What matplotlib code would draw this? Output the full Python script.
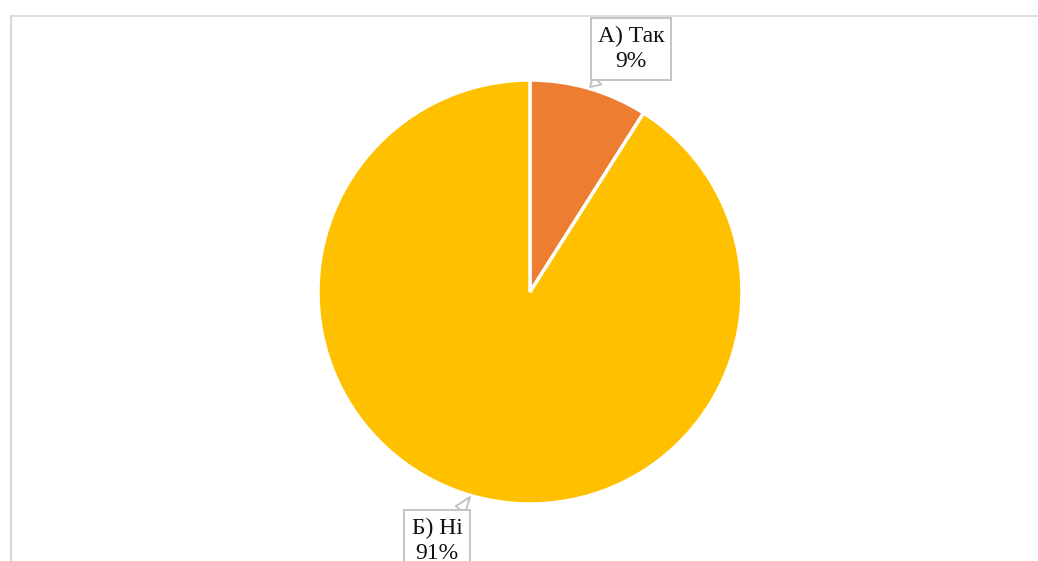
import matplotlib
matplotlib.use("Agg")
import matplotlib.pyplot as plt

labels = ["А) Так", "Б) Ні"]
values = [9, 91]
colors = ["#ED7D31", "#FFC000"]

W, H = 1038, 561
fig = plt.figure(figsize=(W / 100, H / 100), dpi=100)
ax = fig.add_axes([0, 0, 1, 1])

cx, cy, r = 530, H - 292, 212
wedges, _ = ax.pie(values, colors=colors, startangle=90, counterclock=False,
                   center=(cx, cy), radius=r, frame=True,
                   wedgeprops=dict(edgecolor="white", linewidth=2.5))
ax.set_xlim(0, W)
ax.set_ylim(0, H)
ax.set_aspect("equal")
ax.axis("off")

# chart border (top and left)
ax.plot([10.5, W], [H - 15.5, H - 15.5], color="#d9d9d9", lw=1.2, clip_on=False)
ax.plot([10.5, 10.5], [0, H - 15.5], color="#d9d9d9", lw=1.5, clip_on=False)

texts_pos = [(631, H - 49), (437, H - 541)]
tips = [(590, H - 87), (470, H - 497)]
for lab, v, (tx, ty), tip in zip(labels, values, texts_pos, tips):
    ax.annotate(f"{lab}\n{v}%", xy=tip, xytext=(tx, ty), ha="center", va="center",
                fontsize=17, family="Liberation Serif", color="#111111",
                linespacing=1.3,
                bbox=dict(boxstyle="square,pad=0.3", fc="white", ec="#bfbfbf", lw=1.3),
                arrowprops=dict(arrowstyle="wedge,tail_width=0.5", fc="white",
                                ec="#bfbfbf", lw=1.3, shrinkA=0, shrinkB=0),
                annotation_clip=False)

fig.savefig("out.png", dpi=100)
